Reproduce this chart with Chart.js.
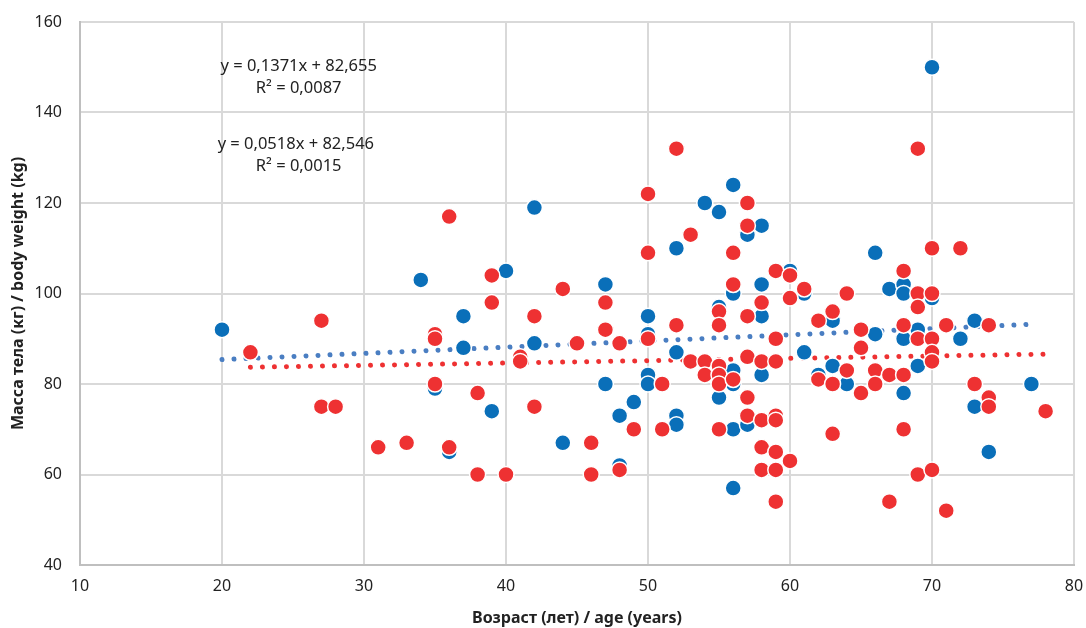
<!DOCTYPE html>
<html>
<head>
<meta charset="utf-8">
<script src="https://cdn.jsdelivr.net/npm/chart.js@4"></script>
<style>
  html, body { margin: 0; padding: 0; background: #fff; }
  #wrap { width: 1086px; height: 628px; }
</style>
</head>
<body>
<div id="wrap"><canvas id="scatterChart" width="1086" height="628"></canvas></div>
<script>
// blue group: age / weight
const blueAge = [20,34,35,36,37,37,39,40,42,42,44,47,47,48,48,49,50,50,50,50,52,52,52,52,54,55,55,55,56,56,56,56,56,56,57,57,58,58,58,58,60,61,61,62,63,63,64,66,66,67,68,68,68,68,69,69,70,70,72,73,73,74,77];
const blueWeight = [92,103,79,65,95,88,74,105,119,89,67,102,80,73,62,76,95,91,82,80,110,87,73,71,120,118,97,77,124,100,83,80,70,57,113,71,115,102,95,82,105,100,87,82,94,84,80,109,91,101,102,100,90,78,92,84,150,99,90,94,75,65,80];

// red group: age / weight
const redAge = [22,27,27,28,31,33,35,35,35,36,36,38,38,39,39,40,41,41,42,42,44,45,46,46,47,47,48,48,49,50,50,50,51,51,52,52,53,53,54,54,55,55,55,55,55,55,56,56,56,57,57,57,57,57,57,58,58,58,58,58,59,59,59,59,59,59,59,59,60,60,60,61,62,62,63,63,63,64,64,65,65,65,66,66,67,67,68,68,68,68,69,69,69,69,69,70,70,70,70,70,70,71,71,72,73,74,74,74,78];
const redWeight = [87,94,75,75,66,67,91,90,80,117,66,78,60,104,98,60,86,85,95,75,101,89,67,60,98,92,89,61,70,122,109,90,80,70,132,93,113,85,85,82,96,93,84,82,80,70,109,102,81,120,115,95,86,77,73,98,85,72,66,61,105,90,85,73,72,65,61,54,104,99,63,101,94,81,96,80,69,100,83,92,88,78,83,80,82,54,105,93,82,70,132,100,97,90,60,110,100,90,87,85,61,93,52,110,80,93,77,75,74];

// trend line end points
const blueTrendAge = [20, 77];
const blueTrendWeight = [85.4, 93.2];
const redTrendAge = [22, 78];
const redTrendWeight = [83.7, 86.6];

const equationLines = [
    { text: 'y = 0,1371x + 82,655', x: 25.4, y: 150.2 },
    { text: 'R² = 0,0087', x: 25.4, y: 145.4 },
    { text: 'y = 0,0518x + 82,546', x: 25.2, y: 133.0 },
    { text: 'R² = 0,0015', x: 25.4, y: 128.1 }
];

const BLUE = '#0a6fb9';
const RED = '#ee3132';

function toPoints(xs, ys) {
    return xs.map((x, i) => ({ x: x, y: ys[i] }));
}

const equationPlugin = {
    id: 'equations',
    afterDatasetsDraw(chart) {
        const ctx = chart.ctx;
        const sx = chart.scales.x, sy = chart.scales.y;
        ctx.save();
        ctx.fillStyle = '#222';
        ctx.font = '16.5px "Noto Sans", sans-serif';
        ctx.textAlign = 'center';
        ctx.textBaseline = 'middle';
        equationLines.forEach(l => {
            ctx.fillText(l.text, sx.getPixelForValue(l.x), sy.getPixelForValue(l.y));
        });
        ctx.restore();
    }
};

const ctx = document.getElementById('scatterChart').getContext('2d');
new Chart(ctx, {
    type: 'scatter',
    data: {
        datasets: [
            {
                label: 'trend blue',
                type: 'line',
                data: toPoints(blueTrendAge, blueTrendWeight),
                borderColor: '#4a7ec2',
                borderWidth: 5,
                borderDash: [0.01, 12],
                borderCapStyle: 'round',
                pointRadius: 0,
                fill: false,
                order: 3
            },
            {
                label: 'trend red',
                type: 'line',
                data: toPoints(redTrendAge, redTrendWeight),
                borderColor: RED,
                borderWidth: 5,
                borderDash: [0.01, 12],
                borderCapStyle: 'round',
                pointRadius: 0,
                fill: false,
                order: 3
            },
            {
                label: 'blue',
                data: toPoints(blueAge, blueWeight),
                backgroundColor: BLUE,
                borderColor: '#ffffff',
                borderWidth: 1.5,
                pointRadius: 8,
                order: 2
            },
            {
                label: 'red',
                data: toPoints(redAge, redWeight),
                backgroundColor: RED,
                borderColor: '#ffffff',
                borderWidth: 1.5,
                pointRadius: 8,
                order: 1
            }
        ]
    },
    options: {
        responsive: false,
        animation: false,
        layout: { padding: { top: 22, right: 12, left: 0, bottom: 0 } },
        plugins: {
            legend: { display: false },
            tooltip: { enabled: false }
        },
        scales: {
            x: {
                type: 'linear',
                min: 10,
                max: 80,
                afterFit: s => { s.height = 63; s.paddingLeft = 0; s.paddingRight = 0; },
                ticks: { stepSize: 10, padding: 12, color: '#222', font: { family: 'Noto Sans', size: 16 } },
                grid: { color: '#d9d9d9', lineWidth: 2, drawTicks: false },
                border: { color: '#bfbfbf', width: 2 },
                title: {
                    display: true,
                    text: 'Возраст (лет) / age (years)',
                    color: '#222',
                    padding: { top: 2, bottom: 0 },
                    font: { family: 'Noto Sans', size: 16, weight: 'bold' }
                }
            },
            y: {
                min: 40,
                max: 160,
                afterFit: s => { s.width = 80; s.paddingTop = 0; s.paddingBottom = 0; },
                ticks: { stepSize: 20, padding: 18, color: '#222', font: { family: 'Noto Sans', size: 16 } },
                grid: { color: '#d9d9d9', lineWidth: 2, drawTicks: false },
                border: { color: '#bfbfbf', width: 2 },
                title: {
                    display: true,
                    text: 'Масса тела (кг) / body weight (kg)',
                    color: '#222',
                    padding: { top: 9, bottom: 0 },
                    font: { family: 'Noto Sans', size: 16, weight: 'bold' }
                }
            }
        }
    },
    plugins: [equationPlugin]
});
</script>
</body>
</html>
